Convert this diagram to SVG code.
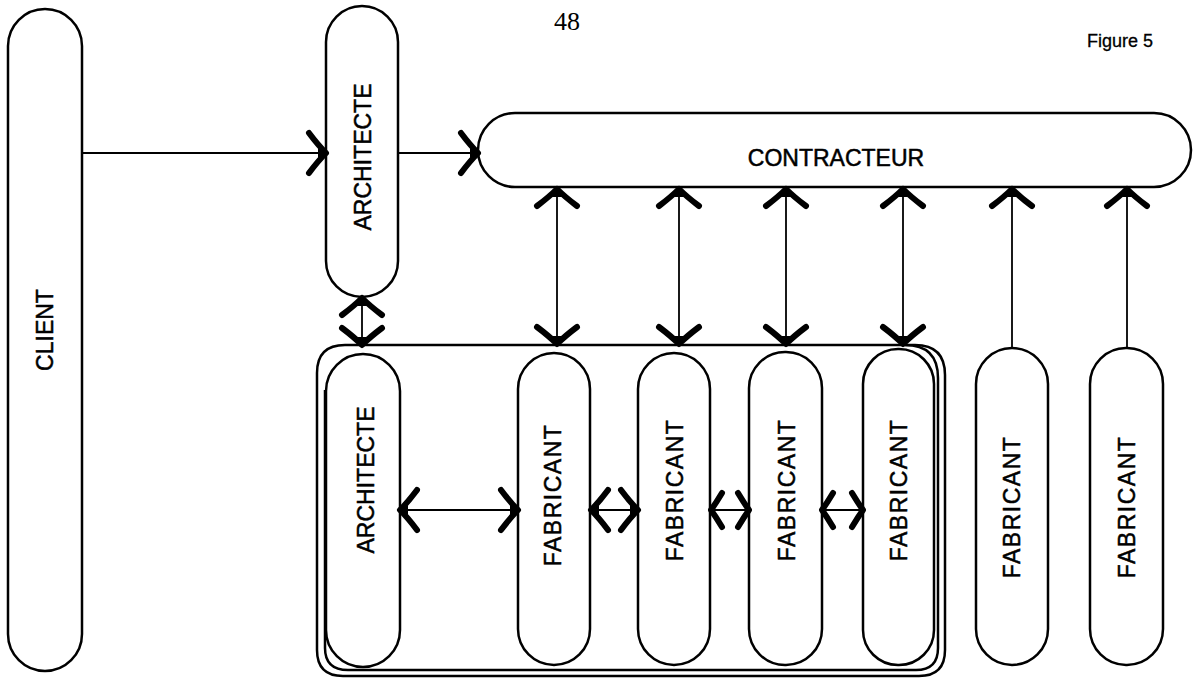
<svg xmlns="http://www.w3.org/2000/svg" width="1193" height="678" viewBox="0 0 1193 678">
<style>
.pill{fill:none;stroke:#000;stroke-width:2.5}
.lbl{font-family:"Liberation Sans",Arial,sans-serif;font-size:23px;fill:#000;stroke:#000;stroke-width:0.5;text-anchor:middle;dominant-baseline:central}
.fab{letter-spacing:1.5px}
.cn{fill:none;stroke:#000;stroke-width:1.8}
</style>
<defs>
<marker id="ah" viewBox="-24 -26 30 52" refX="0" refY="0" markerWidth="30" markerHeight="52" markerUnits="userSpaceOnUse" orient="auto-start-reverse">
<path d="M-17,-20 Q-8,-8 0,0 Q-8,8 -17,20" fill="none" stroke="#000" stroke-width="6" stroke-linecap="round" stroke-linejoin="round"/>
<path d="M1,0 L-8,-6 L-8,6 Z" fill="#000"/>
</marker>
<marker id="ahs" viewBox="-20 -24 24 48" refX="0" refY="0" markerWidth="24" markerHeight="48" markerUnits="userSpaceOnUse" orient="auto-start-reverse">
<path d="M-11,-17 Q-5,-7 0,0 Q-5,7 -11,17" fill="none" stroke="#000" stroke-width="6" stroke-linecap="round" stroke-linejoin="round"/>
</marker>
</defs>

<text x="567" y="30" font-family="'Liberation Serif','Times New Roman',serif" font-size="26" text-anchor="middle">48</text>
<text x="1120" y="47" font-family="'Liberation Sans',Arial,sans-serif" font-size="18" stroke="#000" stroke-width="0.3" text-anchor="middle">Figure 5</text>

<g id="client">
<rect class="pill" x="8" y="9" width="74" height="662" rx="37"/>
<text class="lbl" transform="translate(45,330) rotate(-90)">CLIENT</text>
</g>
<g id="architecte-top">
<rect class="pill" x="326" y="6" width="72" height="291" rx="36"/>
<text class="lbl" transform="translate(363,157) rotate(-90)">ARCHITECTE</text>
</g>
<g id="contracteur">
<rect class="pill" x="478" y="113" width="713" height="74" rx="37"/>
<text class="lbl" transform="translate(836,158)">CONTRACTEUR</text>
</g>
<g id="groupe">
<path class="pill" d="M345,345 L915,345 Q945,345 945,375 L945,650 Q945,676 919,676 L343,676 Q317,676 317,650 L317,373 Q317,345 345,345 Z"/>
<path class="pill" d="M905,345 Q938,345 938,378 L938,648 Q938,670 916,670 L348,670 Q325,670 325,648 L325,390"/>
</g>
<g id="architecte-bas">
<rect class="pill" x="326" y="354" width="74" height="313" rx="37"/>
<text class="lbl" transform="translate(366,480) rotate(-90)">ARCHITECTE</text>
</g>
<g id="fabricant-1">
<rect class="pill" x="518" y="353" width="72" height="312" rx="36"/>
<text class="lbl fab" transform="translate(553,495) rotate(-90)">FABRICANT</text>
</g>
<g id="fabricant-2">
<rect class="pill" x="638" y="353" width="72" height="312" rx="36"/>
<text class="lbl fab" transform="translate(675,490) rotate(-90)">FABRICANT</text>
</g>
<g id="fabricant-3">
<rect class="pill" x="749" y="352" width="73" height="313" rx="36"/>
<text class="lbl fab" transform="translate(787,490) rotate(-90)">FABRICANT</text>
</g>
<g id="fabricant-4">
<rect class="pill" x="863" y="349" width="71" height="316" rx="35"/>
<text class="lbl fab" transform="translate(899,490) rotate(-90)">FABRICANT</text>
</g>
<g id="fabricant-5">
<rect class="pill" x="976" y="348" width="72" height="317" rx="36"/>
<text class="lbl fab" transform="translate(1012,507) rotate(-90)">FABRICANT</text>
</g>
<g id="fabricant-6">
<rect class="pill" x="1090" y="348" width="73" height="317" rx="36"/>
<text class="lbl fab" transform="translate(1127,507) rotate(-90)">FABRICANT</text>
</g>

<g id="connectors">
<line class="cn" x1="82" y1="153" x2="326" y2="153" marker-end="url(#ah)"/>
<line class="cn" x1="398" y1="153" x2="478" y2="153" marker-end="url(#ah)"/>
<line class="cn" x1="362" y1="298" x2="362" y2="345" marker-start="url(#ah)" marker-end="url(#ah)"/>
<line class="cn" x1="557" y1="189" x2="557" y2="344" marker-start="url(#ah)" marker-end="url(#ah)"/>
<line class="cn" x1="679" y1="189" x2="679" y2="344" marker-start="url(#ah)" marker-end="url(#ah)"/>
<line class="cn" x1="786" y1="189" x2="786" y2="344" marker-start="url(#ah)" marker-end="url(#ah)"/>
<line class="cn" x1="903" y1="189" x2="903" y2="344" marker-start="url(#ah)" marker-end="url(#ah)"/>
<line class="cn" x1="1012" y1="348" x2="1012" y2="189" marker-end="url(#ah)"/>
<line class="cn" x1="1127" y1="348" x2="1127" y2="189" marker-end="url(#ah)"/>
<line class="cn" x1="400" y1="510" x2="518" y2="510" marker-start="url(#ah)" marker-end="url(#ah)"/>
<line class="cn" x1="591" y1="510" x2="638" y2="510" marker-start="url(#ah)" marker-end="url(#ah)"/>
<line class="cn" x1="711" y1="510" x2="749" y2="510" marker-start="url(#ahs)" marker-end="url(#ahs)"/>
<line class="cn" x1="822" y1="510" x2="863" y2="510" marker-start="url(#ahs)" marker-end="url(#ahs)"/>
</g>
</svg>
